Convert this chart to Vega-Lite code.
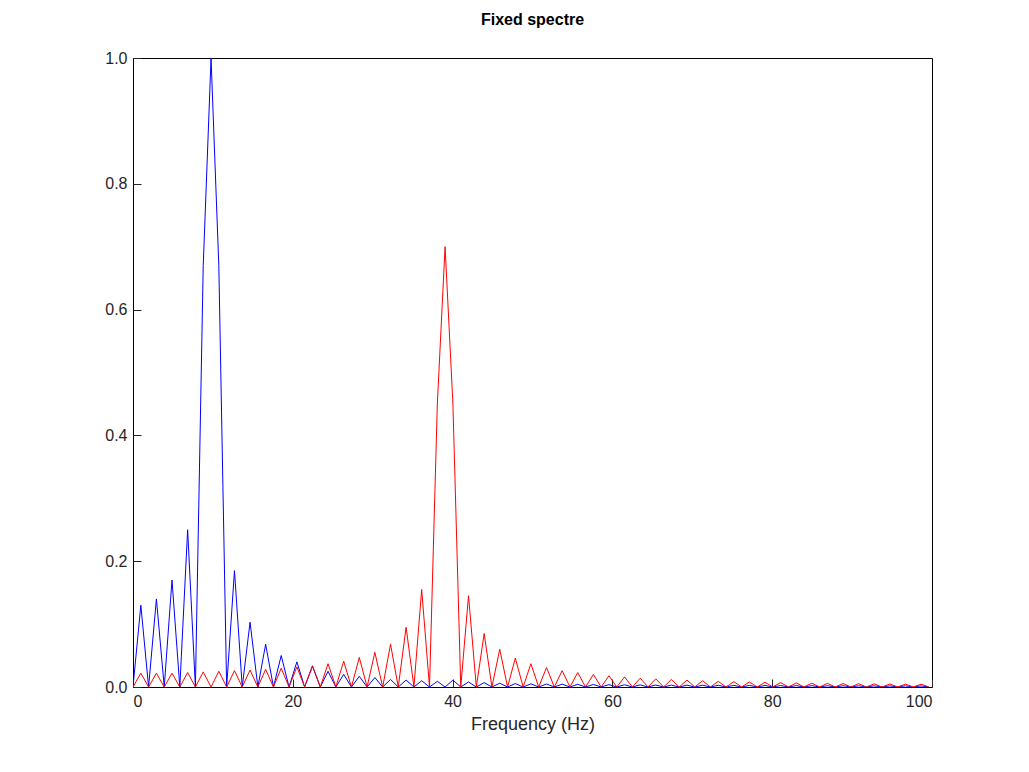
{
  "$schema": "https://vega.github.io/schema/vega-lite/v6.json",
  "autosize": "none",
  "width": 799,
  "height": 629,
  "padding": {"left": 133, "top": 58, "right": 97, "bottom": 85},
  "background": "white",
  "title": {"text": "Fixed spectre", "font": "Liberation Sans", "fontSize": 16, "fontWeight": "bold", "offset": 22},
  "data": {"values": [
    {"f":0,"b":0,"r":0},{"f":0.98,"b":0.13,"r":0.022},{"f":1.95,"b":0,"r":0},{"f":2.93,"b":0.14,"r":0.022},
    {"f":3.91,"b":0,"r":0},{"f":4.88,"b":0.17,"r":0.022},{"f":5.86,"b":0,"r":0},{"f":6.84,"b":0.25,"r":0.023},
    {"f":7.81,"b":0,"r":0},{"f":8.79,"b":0.67,"r":0.024},{"f":9.77,"b":1.0,"r":0},{"f":10.74,"b":0.67,"r":0.025},
    {"f":11.72,"b":0,"r":0},{"f":12.7,"b":0.185,"r":0.026},{"f":13.67,"b":0,"r":0},{"f":14.65,"b":0.103,"r":0.027},
    {"f":15.63,"b":0,"r":0},{"f":16.6,"b":0.068,"r":0.028},{"f":17.58,"b":0,"r":0},{"f":18.55,"b":0.05,"r":0.03},
    {"f":19.53,"b":0,"r":0},{"f":20.51,"b":0.04,"r":0.032},{"f":21.48,"b":0,"r":0},{"f":22.46,"b":0.033,"r":0.034},
    {"f":23.44,"b":0,"r":0},{"f":24.41,"b":0.025,"r":0.037},{"f":25.39,"b":0,"r":0},{"f":26.37,"b":0.02,"r":0.041},
    {"f":27.34,"b":0,"r":0},{"f":28.32,"b":0.017,"r":0.047},{"f":29.3,"b":0,"r":0},{"f":30.27,"b":0.015,"r":0.055},
    {"f":31.25,"b":0,"r":0},{"f":32.23,"b":0.012,"r":0.068},{"f":33.2,"b":0,"r":0},{"f":34.18,"b":0.011,"r":0.095},
    {"f":35.16,"b":0,"r":0},{"f":36.13,"b":0.01,"r":0.155},{"f":37.11,"b":0,"r":0},{"f":38.09,"b":0.009,"r":0.45},
    {"f":39.06,"b":0,"r":0.7},{"f":40.04,"b":0.011,"r":0.45},{"f":41.02,"b":0,"r":0},{"f":41.99,"b":0.008,"r":0.145},
    {"f":42.97,"b":0,"r":0},{"f":43.95,"b":0.007,"r":0.085},{"f":44.92,"b":0,"r":0},{"f":45.9,"b":0.006,"r":0.06},
    {"f":46.88,"b":0,"r":0},{"f":47.85,"b":0.0055,"r":0.046},{"f":48.83,"b":0,"r":0},{"f":49.8,"b":0.005,"r":0.037},
    {"f":50.78,"b":0,"r":0},{"f":51.76,"b":0.0048,"r":0.031},{"f":52.73,"b":0,"r":0},{"f":53.71,"b":0.0045,"r":0.026},
    {"f":54.69,"b":0,"r":0},{"f":55.66,"b":0.0043,"r":0.023},{"f":56.64,"b":0,"r":0},{"f":57.62,"b":0.004,"r":0.02},
    {"f":58.59,"b":0,"r":0},{"f":59.57,"b":0.0038,"r":0.018},{"f":60.55,"b":0,"r":0},{"f":61.52,"b":0.0036,"r":0.016},
    {"f":62.5,"b":0,"r":0},{"f":63.48,"b":0.0034,"r":0.014},{"f":64.45,"b":0,"r":0},{"f":65.43,"b":0.0032,"r":0.013},
    {"f":66.41,"b":0,"r":0},{"f":67.38,"b":0.003,"r":0.012},{"f":68.36,"b":0,"r":0},{"f":69.34,"b":0.0029,"r":0.011},
    {"f":70.31,"b":0,"r":0},{"f":71.29,"b":0.0028,"r":0.01},{"f":72.27,"b":0,"r":0},{"f":73.24,"b":0.0027,"r":0.009},
    {"f":74.22,"b":0,"r":0},{"f":75.2,"b":0.0026,"r":0.0085},{"f":76.17,"b":0,"r":0},{"f":77.15,"b":0.0025,"r":0.008},
    {"f":78.13,"b":0,"r":0},{"f":79.1,"b":0.0024,"r":0.0075},{"f":80.08,"b":0,"r":0},{"f":81.05,"b":0.0023,"r":0.007},
    {"f":82.03,"b":0,"r":0},{"f":83.01,"b":0.0022,"r":0.0065},{"f":83.98,"b":0,"r":0},{"f":84.96,"b":0.0021,"r":0.006},
    {"f":85.94,"b":0,"r":0},{"f":86.91,"b":0.002,"r":0.0058},{"f":87.89,"b":0,"r":0},{"f":88.87,"b":0.002,"r":0.0055},
    {"f":89.84,"b":0,"r":0},{"f":90.82,"b":0.0019,"r":0.0052},{"f":91.8,"b":0,"r":0},{"f":92.77,"b":0.0019,"r":0.005},
    {"f":93.75,"b":0,"r":0},{"f":94.73,"b":0.0018,"r":0.0048},{"f":95.7,"b":0,"r":0},{"f":96.68,"b":0.0018,"r":0.0046},
    {"f":97.66,"b":0,"r":0},{"f":98.63,"b":0.0017,"r":0.0044},{"f":99.61,"b":0,"r":0}
  ]},
  "transform": [{"fold": ["b", "r"], "as": ["series", "amp"]}],
  "mark": {"type": "line", "strokeWidth": 1, "clip": true},
  "encoding": {
    "x": {"field": "f", "type": "quantitative", "scale": {"domain": [0, 100], "nice": false},
      "title": "Frequency (Hz)",
      "axis": {"values": [0, 20, 40, 60, 80, 100], "grid": false, "tickSize": -8, "domain": false, "labelPadding": 14, "titlePadding": 6}},
    "y": {"field": "amp", "type": "quantitative", "scale": {"domain": [0, 1], "nice": false},
      "title": null,
      "axis": {"values": [0, 0.2, 0.4, 0.6, 0.8, 1], "grid": false, "tickSize": -8, "domain": false, "labelPadding": 14}},
    "color": {"field": "series", "type": "nominal", "scale": {"domain": ["b", "r"], "range": ["#0000ff", "#ff0000"]}, "legend": null}
  },
  "config": {
    "view": {"stroke": "#000000", "strokeWidth": 1},
    "axis": {"labelFont": "Liberation Sans", "labelFontSize": 16, "labelColor": "#262626", "titleFont": "Liberation Sans", "titleFontSize": 18, "titleFontWeight": "normal", "titleColor": "#262626", "tickColor": "#262626"}
  }
}
